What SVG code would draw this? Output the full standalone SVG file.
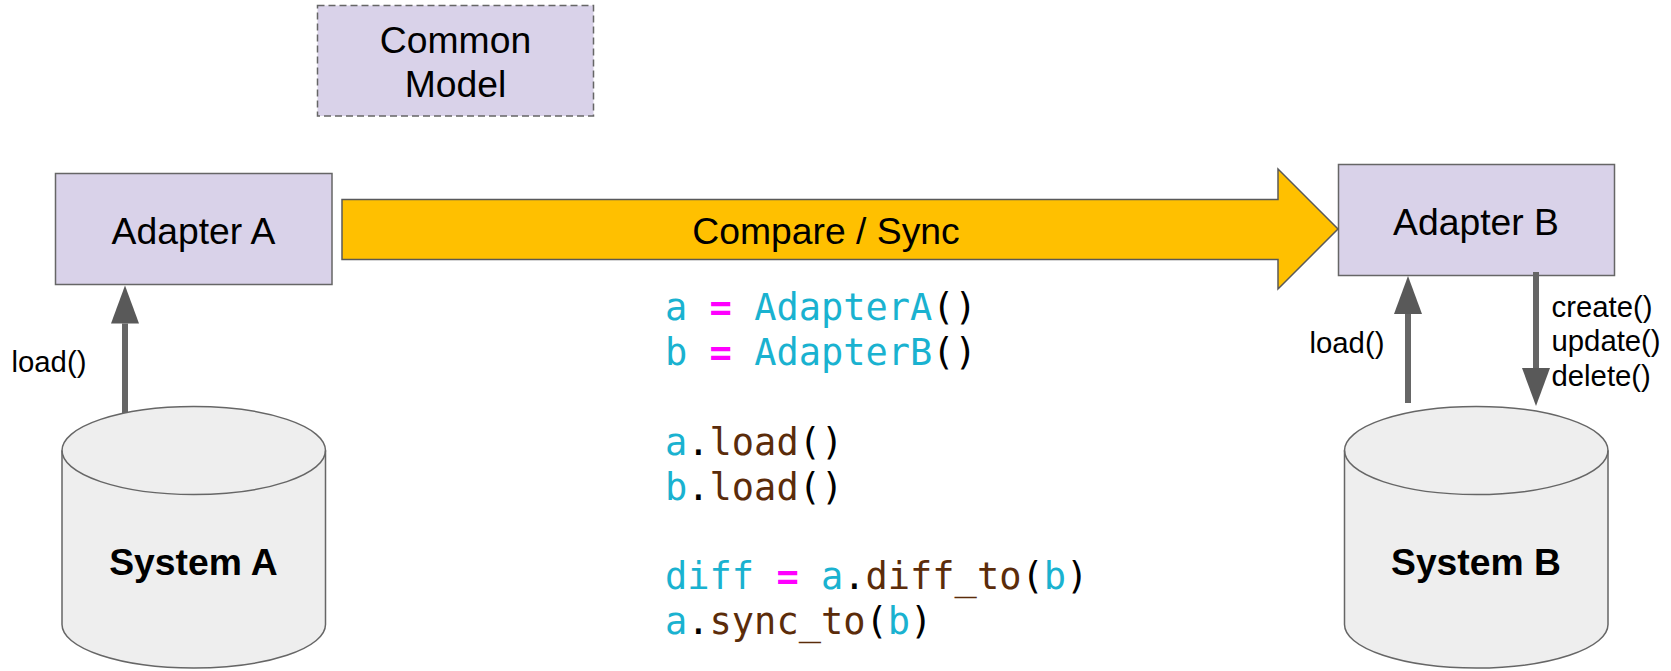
<svg xmlns="http://www.w3.org/2000/svg" width="1671" height="671" viewBox="0 0 1671 671">
<style>
text{font-family:"Liberation Sans",Arial,sans-serif;fill:#000}
.l{font-size:37.3px;text-anchor:middle}
.b{font-weight:bold}
.s{font-size:29.3px}
.box{fill:#d9d2e9;stroke:#666;stroke-width:1.5}
.cyl{fill:#eee;stroke:#666;stroke-width:1.5}
.conn{stroke:#666;stroke-width:6;fill:none;marker-end:url(#head)}
.code{font-family:"DejaVu Sans Mono","Liberation Mono",monospace;font-size:37px;white-space:pre}
.c{fill:#1ab2d0}.m{fill:#f0f;font-weight:bold}.r{fill:#5b2c0a}
</style>
<defs>
<marker id="head" markerUnits="userSpaceOnUse" markerWidth="40" markerHeight="30" refX="0" refY="14" orient="auto" overflow="visible"><polygon points="0,0 38,14 0,28" fill="#595959"/></marker>
</defs>
<g id="common-model"><rect class="box" x="317.5" y="5.5" width="276" height="110.5" stroke-dasharray="7 4"/><text class="l" x="455.5" y="53">Common</text><text class="l" x="455.5" y="97">Model</text></g>
<g id="adapter-a"><rect class="box" x="55.5" y="173.5" width="276.5" height="111"/><text class="l" x="193.5" y="243.5">Adapter A</text></g>
<g id="adapter-b"><rect class="box" x="1338.5" y="164.5" width="276" height="111"/><text class="l" x="1476" y="234.5">Adapter B</text></g>
<g id="system-a"><path class="cyl" d="M62,450.5A131.75,44 0 0 1 325.5,450.5V624.5A131.75,43.5 0 0 1 62,624.5Z"/><path class="cyl" style="fill:none" d="M62,450.5A131.75,44 0 0 0 325.5,450.5"/><text class="l b" x="193.5" y="574.5">System A</text></g>
<g id="system-b"><path class="cyl" d="M1344.5,450.5A131.75,44 0 0 1 1608,450.5V624.5A131.75,43.5 0 0 1 1344.5,624.5Z"/><path class="cyl" style="fill:none" d="M1344.5,450.5A131.75,44 0 0 0 1608,450.5"/><text class="l b" x="1476" y="574.5">System B</text></g>
<g id="compare-sync"><polygon points="342,199.5 1278,199.5 1278,169 1338,229 1278,289 1278,259.5 342,259.5" fill="#ffc000" stroke="#595959" stroke-width="1.5"/><text class="l" x="826" y="243.5">Compare / Sync</text></g>
<g id="connectors">
<line class="conn" x1="125" y1="413" x2="125" y2="323.5"/>
<line class="conn" x1="1408" y1="403" x2="1408" y2="314"/>
<line class="conn" x1="1536" y1="272" x2="1536" y2="368"/>
</g>
<g id="labels">
<text class="s" x="11.5" y="372">load()</text>
<text class="s" x="1309.5" y="352.5">load()</text>
<text class="s" x="1551.5" y="317">create()</text>
<text class="s" x="1551.5" y="351">update()</text>
<text class="s" x="1551.5" y="386">delete()</text>
</g>
<g id="code">
<text class="code" x="665" y="319.5"><tspan class="c">a</tspan> <tspan class="m">=</tspan> <tspan class="c">AdapterA</tspan>()</text>
<text class="code" x="665" y="364.5"><tspan class="c">b</tspan> <tspan class="m">=</tspan> <tspan class="c">AdapterB</tspan>()</text>
<text class="code" x="665" y="454.5"><tspan class="c">a</tspan>.<tspan class="r">load</tspan>()</text>
<text class="code" x="665" y="499.5"><tspan class="c">b</tspan>.<tspan class="r">load</tspan>()</text>
<text class="code" x="665" y="589"><tspan class="c">diff</tspan> <tspan class="m">=</tspan> <tspan class="c">a</tspan>.<tspan class="r">diff_to</tspan>(<tspan class="c">b</tspan>)</text>
<text class="code" x="665" y="633.5"><tspan class="c">a</tspan>.<tspan class="r">sync_to</tspan>(<tspan class="c">b</tspan>)</text>
</g>
</svg>
